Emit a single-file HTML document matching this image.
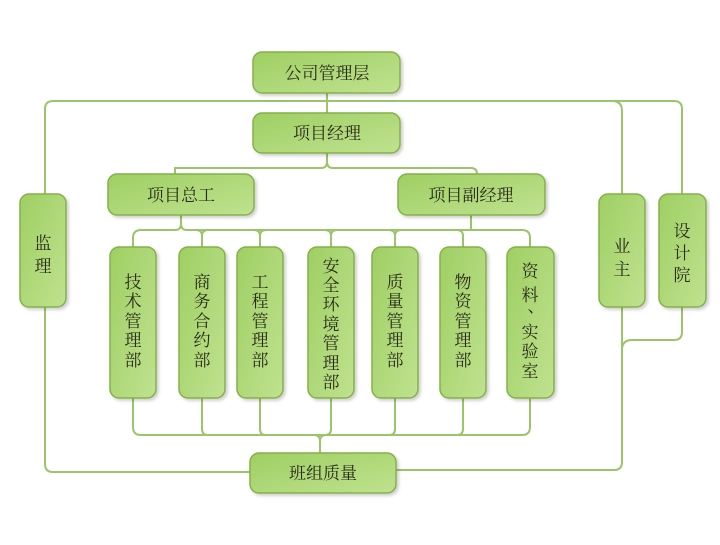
<!DOCTYPE html>
<html><head><meta charset="utf-8"><style>
html,body{margin:0;padding:0;background:#fff;}
text{font-family:"Liberation Serif","Noto Serif CJK SC","Noto Sans CJK SC",serif;font-size:17px;fill:#2a2a1a;}
</style></head><body>
<svg width="720" height="540" viewBox="0 0 720 540" xmlns="http://www.w3.org/2000/svg">
<defs>
<linearGradient id="g" x1="0" y1="0" x2="1" y2="1">
<stop offset="0" stop-color="#9fcf63"/><stop offset="1" stop-color="#bfe28f"/>
</linearGradient>
<filter id="s" x="-20%" y="-20%" width="140%" height="140%"><feDropShadow dx="2" dy="2" stdDeviation="1.5" flood-color="#000" flood-opacity="0.2"/></filter>
</defs>
<g fill="none" stroke="#9cc46a" stroke-width="2">
<path d="M45,194 V109 Q45,101 53,101 H674 Q682,101 682,109 V194"/>
<path d="M612,101 Q622,101 622,111 V194"/>
<path d="M327,93 V113"/>
<path d="M327,153 V162 Q327,168 321,168 H175 V174"/>
<path d="M327,162 Q327,168 333,168 H471 Q477,168 477,174"/>
<path d="M181,215 V224 Q181,230 175,230 H141 Q133,230 133,238 V247"/>
<path d="M181,224 Q181,230 187,230 H522 Q530,230 530,238 V247"/>
<path d="M471,215 V230"/>
<path d="M196,230 Q202,230 202,236 V247 M208,230 Q202,230 202,236"/>
<path d="M254,230 Q260,230 260,236 V247 M266,230 Q260,230 260,236"/>
<path d="M325,230 Q331,230 331,236 V247 M337,230 Q331,230 331,236"/>
<path d="M389,230 Q395,230 395,236 V247 M401,230 Q395,230 395,236"/>
<path d="M457,230 Q463,230 463,236 V247"/>
<path d="M133,398 V427 Q133,435 141,435 H522 Q530,435 530,427 V398"/>
<path d="M202,398 V429 Q202,435 208,435 M260,398 V429 Q260,435 266,435 M331,398 V429 Q331,435 325,435 M395,398 V429 Q395,435 389,435 M463,398 V429 Q463,435 457,435"/>
<path d="M314,435 Q320,435 320,441 V453 M326,435 Q320,435 320,441"/>
<path d="M45,307 V464 Q45,472 53,472 H250"/>
<path d="M396,470 H614 Q622,470 622,462 V307"/>
<path d="M622,350 Q622,340 632,340 H674 Q682,340 682,332 V307"/>
</g>
<g fill="url(#g)" stroke="#86b04a" stroke-width="1.5" filter="url(#s)">
<rect x="253" y="52" width="147" height="41" rx="9"/>
<rect x="253" y="113" width="147" height="40" rx="9"/>
<rect x="108" y="174" width="146" height="41" rx="9"/>
<rect x="398" y="174" width="147" height="41" rx="9"/>
<rect x="20" y="194" width="46" height="113" rx="9"/>
<rect x="599" y="194" width="46" height="113" rx="9"/>
<rect x="659" y="194" width="47" height="113" rx="9"/>
<rect x="110" y="247" width="46" height="151" rx="9"/>
<rect x="179" y="247" width="46" height="151" rx="9"/>
<rect x="237" y="247" width="46" height="151" rx="9"/>
<rect x="308" y="247" width="46" height="151" rx="9"/>
<rect x="372" y="247" width="46" height="151" rx="9"/>
<rect x="440" y="247" width="46" height="151" rx="9"/>
<rect x="507" y="247" width="47" height="151" rx="9"/>
<rect x="250" y="453" width="146" height="40" rx="9"/>
</g>
<g text-anchor="middle">
<text x="327" y="79">公司管理层</text>
<text x="327" y="139">项目经理</text>
<text x="181" y="201">项目总工</text>
<text x="471" y="201">项目副经理</text>
<text x="323" y="479">班组质量</text>
<text x="43" y="249">监</text><text x="43" y="272">理</text>
<text x="622" y="252">业</text><text x="622" y="275">主</text>
<text x="682" y="237">设</text><text x="682" y="259">计</text><text x="682" y="281">院</text>
<text x="133" y="288">技</text><text x="133" y="307">术</text><text x="133" y="327">管</text><text x="133" y="346">理</text><text x="133" y="366">部</text>
<text x="202" y="288">商</text><text x="202" y="307">务</text><text x="202" y="327">合</text><text x="202" y="346">约</text><text x="202" y="366">部</text>
<text x="260" y="288">工</text><text x="260" y="307">程</text><text x="260" y="327">管</text><text x="260" y="346">理</text><text x="260" y="366">部</text>
<text x="331" y="272">安</text><text x="331" y="291">全</text><text x="331" y="310">环</text><text x="331" y="330">境</text><text x="331" y="349">管</text><text x="331" y="369">理</text><text x="331" y="388">部</text>
<text x="395" y="288">质</text><text x="395" y="307">量</text><text x="395" y="327">管</text><text x="395" y="346">理</text><text x="395" y="366">部</text>
<text x="463" y="288">物</text><text x="463" y="307">资</text><text x="463" y="327">管</text><text x="463" y="346">理</text><text x="463" y="366">部</text>
<text x="530" y="277">资</text><text x="530" y="301">料</text><text x="536" y="312">、</text><text x="530" y="338">实</text><text x="530" y="357">验</text><text x="530" y="377">室</text>
</g>
</svg>
</body></html>
